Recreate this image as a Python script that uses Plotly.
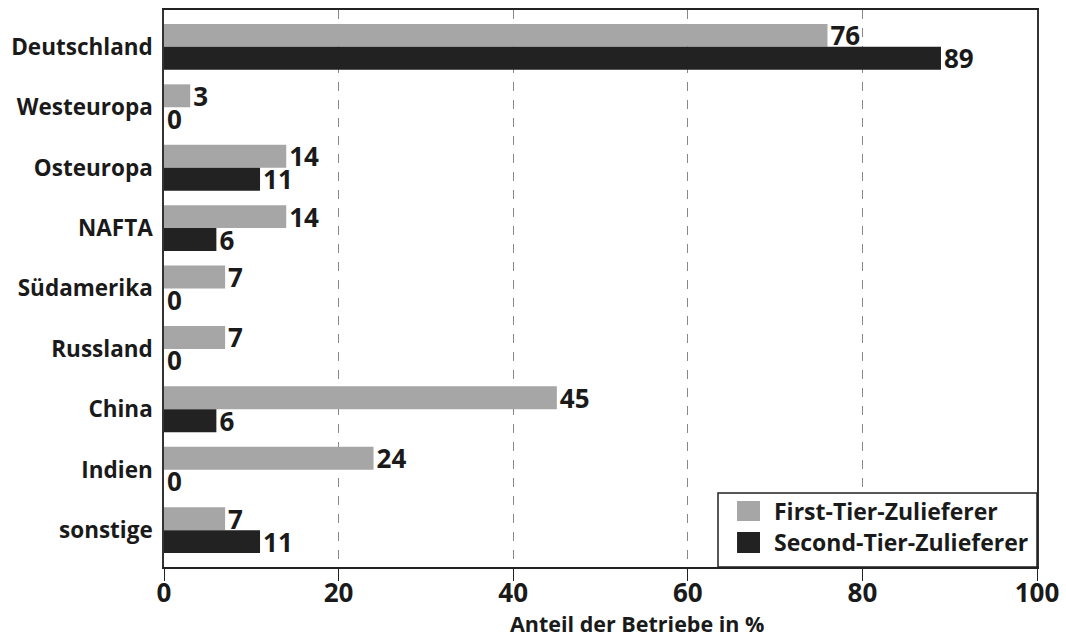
import plotly.graph_objects as go

categories = ["Deutschland", "Westeuropa", "Osteuropa", "NAFTA", "Südamerika",
              "Russland", "China", "Indien", "sonstige"]
first_tier = [76, 3, 14, 14, 7, 7, 45, 24, 7]
second_tier = [89, 0, 11, 6, 0, 0, 6, 0, 11]
x_ticks = [0, 20, 40, 60, 80, 100]
series_names = ["First-Tier-Zulieferer", "Second-Tier-Zulieferer"]
series_colors = ["#a6a6a6", "#222222"]

FONT = "Open Sans"
TXT = "#1a1a1a"
fig = go.Figure()
for name, vals, col in zip(series_names, [first_tier, second_tier], series_colors):
    fig.add_trace(go.Bar(
        y=categories, x=vals, orientation="h", name=name,
        marker=dict(color=col, line=dict(width=0)),
        text=[str(v) for v in vals], textposition="outside",
        constraintext="none",
        textfont=dict(family=FONT, size=26, color=TXT, weight="bold"),
        cliponaxis=False, showlegend=False,
    ))

# custom legend (box, swatches, labels) in plot-domain coordinates
fig.add_shape(type="rect", xref="paper", yref="paper",
              x0=0.6346, x1=1.0, y0=0.0, y1=0.1329,
              line=dict(color="#222222", width=1.5), fillcolor="white", layer="above")
rows_y = [(0.0826, 0.1185, 0.1005), (0.0251, 0.0628, 0.044)]
for (y0, y1, yc), name, col in zip(rows_y, series_names, series_colors):
    fig.add_shape(type="rect", xref="paper", yref="paper",
                  x0=0.6564, x1=0.6827, y0=y0, y1=y1,
                  line=dict(width=0), fillcolor=col, layer="above")
    fig.add_annotation(xref="paper", yref="paper", x=0.6964, y=yc,
                       xanchor="left", yanchor="middle", showarrow=False,
                       text=name, font=dict(family=FONT, size=23, color=TXT, weight="bold"))

# axis title (placed as in the reference, right of centre)
fig.add_annotation(xref="paper", yref="paper", x=(637 - 164) / 873, y=-(623 - 567) / 557,
                   xanchor="center", yanchor="middle", showarrow=False,
                   text="Anteil der Betriebe in %",
                   font=dict(family=FONT, size=21.5, color=TXT, weight="bold"))

fig.update_layout(
    width=1066, height=637,
    margin=dict(l=164, r=29, t=10, b=70),
    barmode="group", bargap=0.24, bargroupgap=0,
    plot_bgcolor="white", paper_bgcolor="white",
    font=dict(family=FONT, color=TXT),
    showlegend=False,
    xaxis=dict(
        range=[0, 100], tickvals=x_ticks, ticktext=[str(v) for v in x_ticks],
        showgrid=True, gridcolor="#888888", griddash="dash", gridwidth=1,
        showline=True, linecolor="#222222", linewidth=1.5, mirror=True,
        ticks="outside", ticklen=12, tickcolor="#222222", tickwidth=1.2,
        ticklabelstandoff=-10,
        tickfont=dict(family=FONT, size=26, color=TXT, weight="bold"),
        zeroline=False, automargin=False,
    ),
    yaxis=dict(
        categoryorder="array", categoryarray=categories,
        range=[8.61, -0.61],
        showline=True, linecolor="#333333", linewidth=1.5, mirror=True,
        ticks="", ticklabelstandoff=5,
        tickfont=dict(family=FONT, size=22.5, color=TXT, weight="bold"),
        showgrid=False, automargin=False,
    ),
)

fig.write_html("out.html")
